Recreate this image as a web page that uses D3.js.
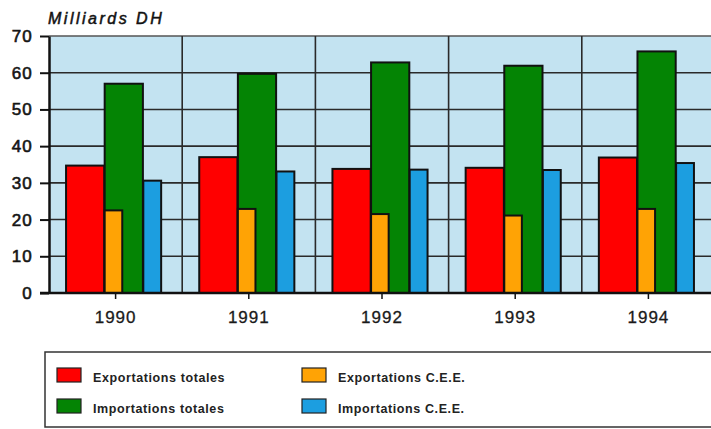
<!DOCTYPE html>
<html>
<head>
<meta charset="utf-8">
<script src="https://cdn.jsdelivr.net/npm/d3@7"></script>
<style>
  html, body { margin: 0; padding: 0; background: #fff; }
  svg { display: block; font-family: "Liberation Sans", Arial, sans-serif; }
</style>
</head>
<body>
<svg id="chart" width="711" height="429"></svg>
<script>
// Commerce extérieur du Maroc, 1990-1994 (milliards de DH)
const years = ["1990", "1991", "1992", "1993", "1994"];
const exportationsTotales = [34.7, 37.0, 33.8, 34.1, 36.9];
const importationsTotales = [57.0, 59.7, 62.8, 61.9, 65.8];
const exportationsCEE = [22.5, 22.9, 21.5, 21.1, 22.9];
const importationsCEE = [30.6, 33.1, 33.6, 33.5, 35.4];
const yTicks = [0, 10, 20, 30, 40, 50, 60, 70];
const unitLabel = "Milliards DH";
const legendLabels = ["Exportations totales", "Importations totales", "Exportations C.E.E.", "Importations C.E.E."];

const colors = {
  expTot: "#ff0000",
  impTot: "#048404",
  expCee: "#ffa305",
  impCee: "#1c9ee0"
};

const svg = d3.select("#chart");
const plotLeft = 49, plotTop = 36, plotBottom = 293, bandW = 133.2;

const x = d3.scaleBand().domain(years).range([plotLeft, plotLeft + bandW * years.length]).padding(0);
const y = d3.scaleLinear().domain([0, 70]).range([plotBottom, plotTop]);

// plot background
svg.append("rect")
  .attr("x", plotLeft).attr("y", plotTop)
  .attr("width", 711 - plotLeft).attr("height", plotBottom - plotTop)
  .attr("fill", "#c3e3f1");

// top frame line
svg.append("line")
  .attr("x1", plotLeft).attr("x2", 711).attr("y1", plotTop).attr("y2", plotTop)
  .attr("stroke", "#555").attr("stroke-width", 1.5);

// horizontal grid
svg.append("g").selectAll("line").data(yTicks.filter(d => d > 0 && d < 70)).join("line")
  .attr("x1", plotLeft).attr("x2", 711)
  .attr("y1", d => y(d)).attr("y2", d => y(d))
  .attr("stroke", "#2a2a2a").attr("stroke-width", 1.6);

// vertical separators between years
svg.append("g").selectAll("line").data(years.slice(1)).join("line")
  .attr("x1", d => x(d)).attr("x2", d => x(d))
  .attr("y1", plotTop).attr("y2", plotBottom)
  .attr("stroke", "#2a2a2a").attr("stroke-width", 1.6);

// bar layout inside each year band (fractions of band width)
const series = [
  { key: "expTot", values: exportationsTotales, f0: 0.128, f1: 0.415 },
  { key: "impTot", values: importationsTotales, f0: 0.418, f1: 0.705 },
  { key: "expCee", values: exportationsCEE, f0: 0.418, f1: 0.550 },
  { key: "impCee", values: importationsCEE, f0: 0.708, f1: 0.842 }
];

const bars = svg.append("g");
series.forEach(s => {
  bars.append("g").selectAll("rect").data(years).join("rect")
    .attr("x", d => x(d) + s.f0 * x.bandwidth())
    .attr("width", (s.f1 - s.f0) * x.bandwidth())
    .attr("y", (d, i) => y(s.values[i]))
    .attr("height", (d, i) => y(0) - y(s.values[i]))
    .attr("fill", colors[s.key])
    .attr("stroke", "#111").attr("stroke-width", 2);
});

// y axis
const yAxis = d3.axisLeft(y).tickValues(yTicks).tickSize(9).tickPadding(7).tickSizeOuter(0);
const gy = svg.append("g").attr("transform", `translate(${plotLeft},0)`).call(yAxis);
gy.select(".domain").attr("stroke", "#111").attr("stroke-width", 2.5);
gy.selectAll(".tick line").attr("stroke", "#111").attr("stroke-width", 2);
gy.selectAll(".tick text")
  .attr("font-size", 17).attr("fill", "#151515")
  .attr("stroke", "#151515").attr("stroke-width", 0.6)
  .attr("font-family", "'Liberation Sans', Arial, sans-serif")
  .attr("letter-spacing", 1.2);

// x axis
const xAxis = d3.axisBottom(x).tickSize(6).tickPadding(12).tickSizeOuter(0);
const gx = svg.append("g").attr("transform", `translate(0,${plotBottom})`).call(xAxis);
gx.select(".domain").attr("d", `M${plotLeft - 9},0H711`).attr("stroke", "#111").attr("stroke-width", 2.5);
gx.selectAll(".tick line").attr("stroke", "#111").attr("stroke-width", 1.5);
gx.selectAll(".tick text")
  .attr("font-size", 17).attr("fill", "#1a1a1a")
  .attr("stroke", "#1a1a1a").attr("stroke-width", 0.3)
  .attr("font-family", "'Liberation Sans', Arial, sans-serif")
  .attr("letter-spacing", 1);

// unit label
svg.append("text")
  .attr("x", 48).attr("y", 24)
  .attr("font-size", 16).attr("font-style", "italic").attr("fill", "#111")
  .attr("stroke", "#111").attr("stroke-width", 0.5)
  .attr("letter-spacing", 2.5)
  .text(unitLabel);

// legend
const lg = svg.append("g");
lg.append("rect")
  .attr("x", 45).attr("y", 352).attr("width", 700).attr("height", 75)
  .attr("fill", "#fff").attr("stroke", "#333").attr("stroke-width", 1.5);

const legendItems = [
  { label: legendLabels[0], key: "expTot", lx: 57, ly: 368 },
  { label: legendLabels[1], key: "impTot", lx: 57, ly: 399 },
  { label: legendLabels[2], key: "expCee", lx: 302, ly: 368 },
  { label: legendLabels[3], key: "impCee", lx: 302, ly: 399 }
];
const li = lg.selectAll("g.item").data(legendItems).join("g").attr("class", "item");
li.append("rect")
  .attr("x", d => d.lx).attr("y", d => d.ly)
  .attr("width", 24).attr("height", 14)
  .attr("fill", d => colors[d.key])
  .attr("stroke", "#222").attr("stroke-width", 1.2);
li.append("text")
  .attr("x", d => d.lx + 36).attr("y", d => d.ly + 14)
  .attr("font-size", 12.5).attr("font-weight", "bold").attr("fill", "#222")
  .attr("letter-spacing", 0.6)
  .text(d => d.label);
</script>
</body>
</html>
